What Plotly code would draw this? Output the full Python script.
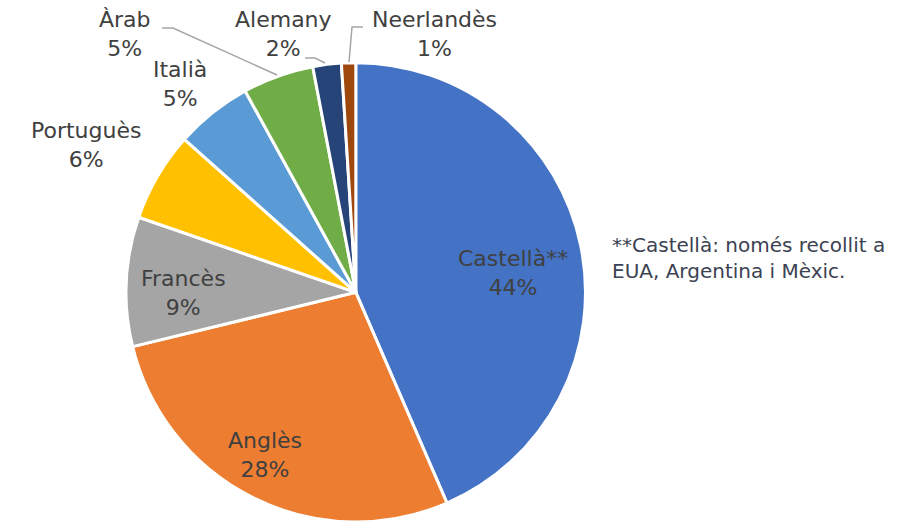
import plotly.graph_objects as go

# Data
languages = ["Castellà**", "Anglès", "Francès", "Portuguès", "Italià", "Àrab", "Alemany", "Neerlandès"]
shares = [43.5, 27.7, 9.1, 6.3, 5.4, 5.0, 2.0, 1.0]
colors = ["#4472C4", "#ED7D31", "#A5A5A5", "#FFC000", "#5B9BD5", "#70AD47", "#264478", "#9E480E"]
note_text = "**Castellà: només recollit a<br>EUA, Argentina i Mèxic."

W, H = 917, 522

fig = go.Figure(go.Pie(
    labels=languages,
    values=shares,
    sort=False,
    direction="clockwise",
    rotation=0,
    marker=dict(colors=colors, line=dict(color="white", width=3)),
    textinfo="none",
    hoverinfo="label+percent",
    domain=dict(x=[0.137, 0.639], y=[0.0, 0.88]),
    showlegend=False,
))

# label positions (pixel centres) for each slice label
label_px = [(513, 273), (265, 455), (183, 293), (86, 145), (180, 84), (125, 34), (283, 34), (434, 34)]

total = sum(shares)
annotations = []
for name, v, (px, py) in zip(languages, shares, label_px):
    annotations.append(dict(
        x=px / W, y=1 - py / H, xref="paper", yref="paper",
        text=f"{name}<br>{round(v / total * 100)}%",
        showarrow=False, xanchor="center", yanchor="middle", align="center",
        font=dict(family="DejaVu Sans", size=22, color="#404040"),
    ))

annotations.append(dict(
    x=610 / W, y=1 - 258 / H, xref="paper", yref="paper",
    text=note_text, showarrow=False, xanchor="left", yanchor="middle", align="left",
    font=dict(family="DejaVu Sans", size=20, color="#3B4252"),
))

def pth(points):
    s = "M " + " L ".join(f"{x / W},{1 - y / H}" for x, y in points)
    return s

leaders = [
    [(162, 28), (173, 28), (277, 75)],
    [(305, 58), (315, 58), (325, 63)],
    [(363, 27), (352, 27), (349, 62)],
]
shapes = [dict(type="path", xref="paper", yref="paper", path=pth(p),
               line=dict(color="#A6A6A6", width=1.5)) for p in leaders]

fig.update_layout(
    width=W, height=H,
    margin=dict(l=0, r=0, t=0, b=0),
    paper_bgcolor="white", plot_bgcolor="white",
    annotations=annotations, shapes=shapes,
)

fig.write_html("out.html", config={"displayModeBar": False},
               post_script="document.body.style.margin='0';")
